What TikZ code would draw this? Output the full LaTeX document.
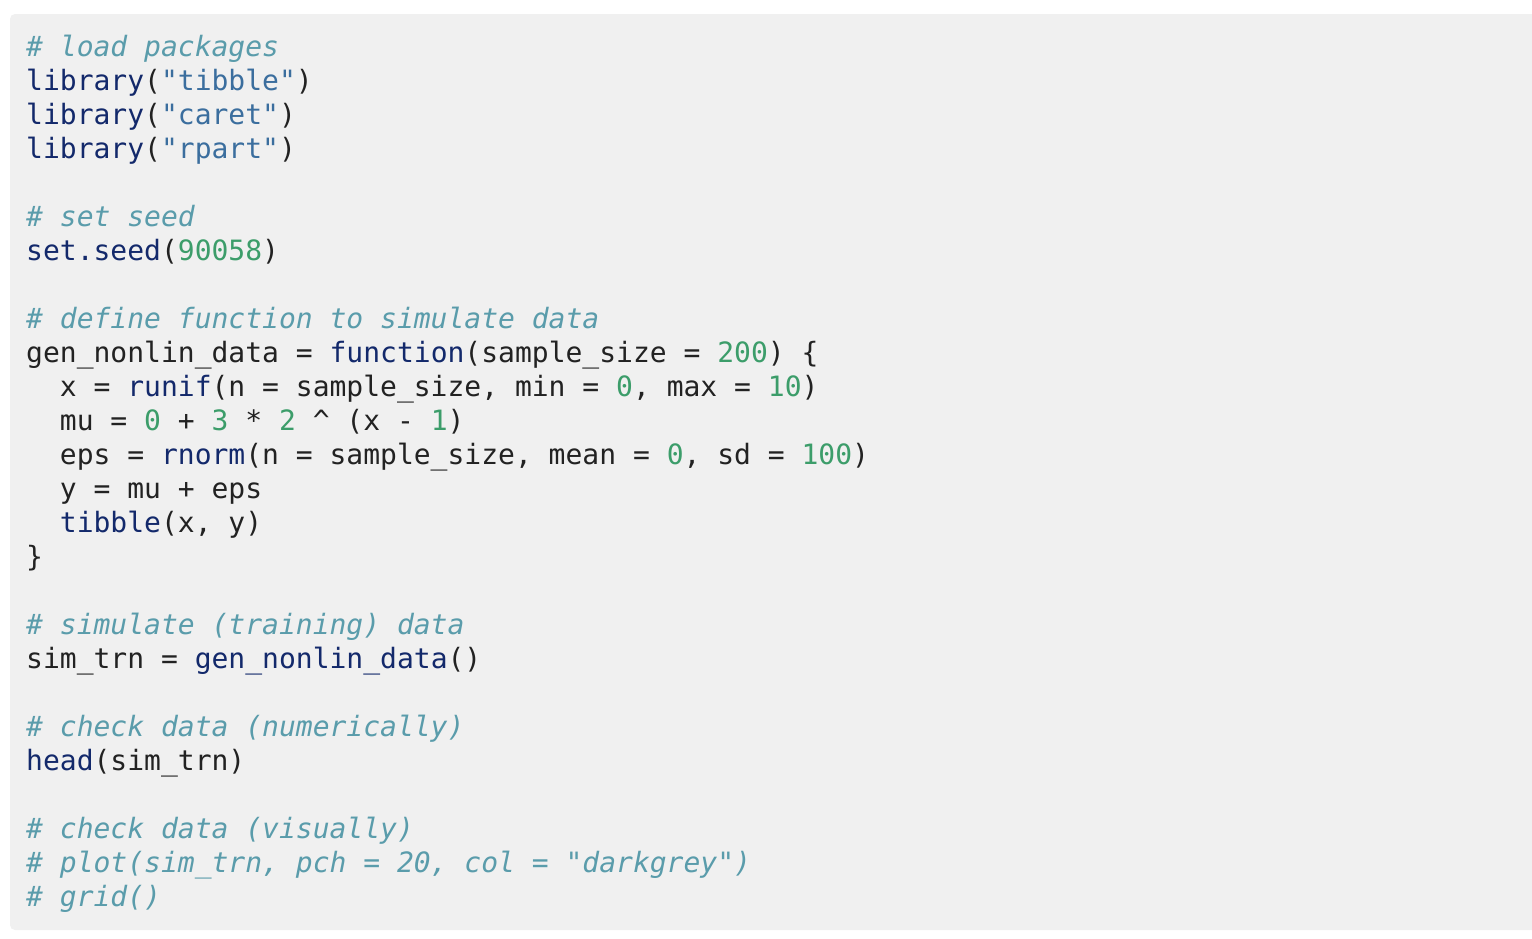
\documentclass[tikz,border=0pt]{standalone}
\usepackage{fontspec}
\newfontfamily\code{DejaVu Sans Mono}
\definecolor{bgc}{HTML}{F0F0F0}
\definecolor{cmc}{HTML}{5A9CAB}
\definecolor{fnc}{HTML}{13296B}
\definecolor{stc}{HTML}{3B6E9E}
\definecolor{nmc}{HTML}{3C9D6A}
\definecolor{txc}{HTML}{222222}
\newcommand{\cmt}[1]{\textcolor{cmc}{\itshape #1}}
\newcommand{\fnn}[1]{\textcolor{fnc}{#1}}
\newcommand{\stt}[1]{\textcolor{stc}{#1}}
\newcommand{\nmm}[1]{\textcolor{nmc}{#1}}
\begin{document}
\begin{tikzpicture}[x=1pt,y=-1pt,
  ln/.style={anchor=base west,inner sep=0pt,font=\code\fontsize{28}{34}\selectfont,text=txc}]
\useasboundingbox (0,0) rectangle (1532,938);
\fill[bgc,rounded corners=5pt] (10,14) rectangle (1540,930);
\def\xa{26}\def\xb{59.7}
\node[ln] (l1) at (\xa,56) {\cmt{\# load packages}};
\node[ln] (l2) at (\xa,90) {\fnn{library}(\stt{"tibble"})};
\node[ln] (l3) at (\xa,124) {\fnn{library}(\stt{"caret"})};
\node[ln] (l4) at (\xa,158) {\fnn{library}(\stt{"rpart"})};
\node[ln] (l6) at (\xa,226) {\cmt{\# set seed}};
\node[ln] (l7) at (\xa,260) {\fnn{set.seed}(\nmm{90058})};
\node[ln] (l9) at (\xa,328) {\cmt{\# define function to simulate data}};
\node[ln] (l10) at (\xa,362) {gen\_nonlin\_data = \fnn{function}(sample\_size = \nmm{200}) \{};
\node[ln] (l11) at (\xb,396) {x = \fnn{runif}(n = sample\_size, min = \nmm{0}, max = \nmm{10})};
\node[ln] (l12) at (\xb,430) {mu = \nmm{0} + \nmm{3} * \nmm{2} \^{} (x - \nmm{1})};
\node[ln] (l13) at (\xb,464) {eps = \fnn{rnorm}(n = sample\_size, mean = \nmm{0}, sd = \nmm{100})};
\node[ln] (l14) at (\xb,498) {y = mu + eps};
\node[ln] (l15) at (\xb,532) {\fnn{tibble}(x, y)};
\node[ln] (l16) at (\xa,566) {\}};
\node[ln] (l18) at (\xa,634) {\cmt{\# simulate (training) data}};
\node[ln] (l19) at (\xa,668) {sim\_trn = \fnn{gen\_nonlin\_data}()};
\node[ln] (l21) at (\xa,736) {\cmt{\# check data (numerically)}};
\node[ln] (l22) at (\xa,770) {\fnn{head}(sim\_trn)};
\node[ln] (l24) at (\xa,838) {\cmt{\# check data (visually)}};
\node[ln] (l25) at (\xa,872) {\cmt{\# plot(sim\_trn, pch = 20, col = "darkgrey")}};
\node[ln] (l26) at (\xa,906) {\cmt{\# grid()}};
\end{tikzpicture}
\end{document}
